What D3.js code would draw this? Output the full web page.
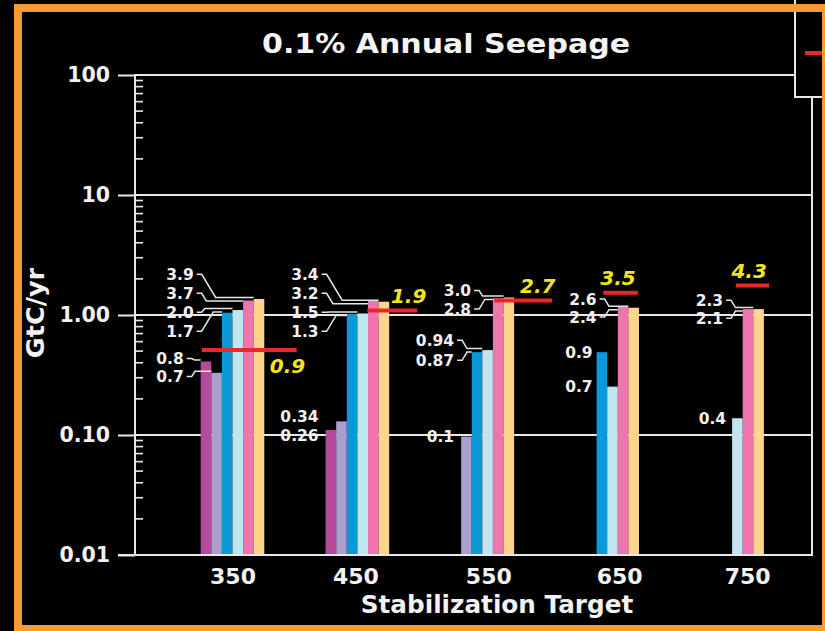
<!DOCTYPE html>
<html>
<head>
<meta charset="utf-8">
<script src="https://cdn.jsdelivr.net/npm/d3@7"></script>
<style>
  html, body { margin: 0; padding: 0; background: #000; }
  svg { display: block; }
</style>
</head>
<body>
<svg id="chart" width="825" height="631"></svg>
<script>
// ---- data -------------------------------------------------------------
const targets = ["350", "450", "550", "650", "750"];

const yTicks = [0.01, 0.1, 1, 10, 100];
const yTickLabels = ["0.01", "0.10", "1.00", "10", "100"];

// seepage rate per scenario, GtC/yr (null = no bar)
const magentaVals   = [0.41, 0.11, null, null, null];
const lavenderVals  = [0.33, 0.13, 0.097, null, null];
const blueVals      = [1.045, 1.02, 0.49, 0.49, null];
const lightBlueVals = [1.10, 1.03, 0.51, 0.253, 0.138];
const pinkVals      = [1.32, 1.32, 1.38, 1.17, 1.12];
const peachVals     = [1.36, 1.29, 1.40, 1.15, 1.12];

// callout text attached to each bar
const magentaNotes   = ["0.8", "0.26", null, null, null];
const lavenderNotes  = ["0.7", "0.34", "0.1", null, null];
const blueNotes      = ["1.7", "1.3", "0.87", "0.9", null];
const lightBlueNotes = ["2.0", "1.5", "0.94", "0.7", "0.4"];
const pinkNotes      = ["3.7", "3.2", "2.8", "2.4", "2.1"];
const peachNotes     = ["3.9", "3.4", "3.0", "2.6", "2.3"];

// allowable level per target (red marker) and its label
const allowance = [0.51, 1.09, 1.32, 1.53, 1.76];
const allowanceText = ["0.9", "1.9", "2.7", "3.5", "4.3"];

// ---- styling / layout ---------------------------------------------------
const seriesVals  = [magentaVals, lavenderVals, blueVals, lightBlueVals, pinkVals, peachVals];
const seriesNotes = [magentaNotes, lavenderNotes, blueNotes, lightBlueNotes, pinkNotes, peachNotes];
const seriesColors = ["#b6499b", "#ab9dcc", "#0a98d6", "#c0e5f0", "#f074af", "#fdd48c"];

const ORANGE = "#f79a32";
const LINE = "#e9e9e9";
const FONT = "'DejaVu Sans', Verdana, sans-serif";

const AXIS_X = 135, BASE_Y = 555, TOP_Y = 75, RIGHT_X = 812, LEGEND_X = 795;

const y = d3.scaleLog().domain([0.01, 100]).range([BASE_Y, TOP_Y]);
const xGroup = d3.scalePoint().domain(targets).range([232.5, 732.1]);
const xBar = d3.scaleBand().domain(d3.range(6)).range([-31.8, 31.8]);

// label nudges for the category axis
const tickNudge = [0, -2, 6, 12, 15];

// callout blocks: which bars share a stacked label column
const calloutLayout = [
  [{ s: [5, 4, 3, 2], leader: true, gap: 19, dy: -2 }, { s: [0, 1], leader: true, gap: 18, dx: -10, dy: 2 }],
  [{ s: [5, 4, 3, 2], leader: true, gap: 19, dy: -5 }, { s: [1, 0], leader: false, gap: 18.7 }],
  [{ s: [5, 4], leader: true, gap: 18.6, dx: 17, dy: 2 }, { s: [3, 2], leader: true, gap: 20 }, { s: [1] }],
  [{ s: [5, 4], leader: true, gap: 18, dx: 7 }, { s: [2], dx: 3 }, { s: [3], dx: 3 }],
  [{ s: [5, 4], leader: true, gap: 18, dx: -2 }, { s: [3], dx: 1 }]
];

// red marker span and label offset, relative to the group centre
const markerLayout = [
  { from: -30.8, to: 64.2, tx: 55, ty: 23 },
  { from: 9.9, to: 59.9, tx: 51.2, ty: -7.5 },
  { from: 12.2, to: 69.9, tx: 55.5, ty: -7.5 },
  { from: -4, to: 30.7, tx: 10.8, ty: -7.5 },
  { from: 3.7, to: 37, tx: 17, ty: -7.5 }
];

const svg = d3.select("#chart");
svg.append("rect").attr("width", 825).attr("height", 631).attr("fill", "#000");

// ---- grid & frame ---------------------------------------------------------
const grid = svg.append("g").attr("stroke", LINE).attr("stroke-width", 2).attr("fill", "none");
yTicks.forEach(v => {
  grid.append("line")
    .attr("x1", AXIS_X).attr("x2", v === 100 ? LEGEND_X : RIGHT_X)
    .attr("y1", y(v)).attr("y2", y(v));
});
// right border of plot below the key box
grid.append("line").attr("x1", RIGHT_X).attr("x2", RIGHT_X).attr("y1", 97).attr("y2", BASE_Y + 1);

// minor ticks on the log axis
const minor = [];
[0.01, 0.1, 1, 10].forEach(d => d3.range(2, 10).forEach(k => minor.push(d * k)));
svg.append("g").attr("stroke", LINE).attr("stroke-width", 1.6)
  .selectAll("line").data(minor).join("line")
  .attr("x1", AXIS_X).attr("x2", AXIS_X + 8)
  .attr("y1", d => y(d)).attr("y2", d => y(d));

// y axis
const yAxis = d3.axisLeft(y).tickValues(yTicks)
  .tickFormat((d, i) => yTickLabels[i]).tickSize(17).tickPadding(8);
const gy = svg.append("g").attr("transform", `translate(${AXIS_X},0)`).call(yAxis);
gy.select(".domain").remove();
gy.selectAll(".tick line").attr("stroke", LINE).attr("stroke-width", 2);
gy.selectAll(".tick text").attr("fill", "#f2f2f2")
  .style("font-family", FONT).style("font-weight", "bold").style("font-size", "20.5px");
svg.append("line").attr("x1", AXIS_X).attr("x2", AXIS_X).attr("y1", TOP_Y - 1).attr("y2", BASE_Y + 1)
  .attr("stroke", LINE).attr("stroke-width", 2);

// ---- bars -----------------------------------------------------------------
const barData = [];
seriesVals.forEach((vals, s) => vals.forEach((v, i) => {
  if (v != null) barData.push({ s, i, v });
}));
svg.append("g").selectAll("rect").data(barData).join("rect")
  .attr("x", d => xGroup(targets[d.i]) + xBar(d.s))
  .attr("width", xBar.bandwidth())
  .attr("y", d => y(d.v))
  .attr("height", d => BASE_Y - y(d.v))
  .attr("fill", d => seriesColors[d.s]);

// bottom axis line (over bar bases)
svg.append("line").attr("x1", 118).attr("x2", RIGHT_X + 1).attr("y1", BASE_Y).attr("y2", BASE_Y)
  .attr("stroke", LINE).attr("stroke-width", 2);

// x axis labels
const xAxis = d3.axisBottom(xGroup).tickSize(0).tickPadding(13);
const gx = svg.append("g").attr("transform", `translate(0,${BASE_Y})`).call(xAxis);
gx.select(".domain").remove();
gx.selectAll(".tick text")
  .attr("dx", (d, i) => tickNudge[i])
  .attr("fill", "#f2f2f2")
  .style("font-family", FONT).style("font-weight", "bold").style("font-size", "22px");

// ---- callouts ---------------------------------------------------------------
const notesG = svg.append("g");
targets.forEach((t, i) => {
  const c = xGroup(t);
  const firstBar = seriesVals.findIndex(vals => vals[i] != null);
  const leftEdge = c + xBar(firstBar);
  calloutLayout[i].forEach(block => {
    const xr = leftEdge - 7 + (block.dx || 0);
    const tops = block.s.map(k => y(seriesVals[k][i]));
    const lead = tops.map(v => v - 1.5);
    for (let j = 1; j < lead.length; j++) lead[j] = Math.max(lead[j], lead[j - 1] + 3.5);
    const n = block.s.length;
    const mid = d3.mean(block.leader ? lead : tops) + (block.dy || 0);
    block.s.forEach((k, j) => {
      const ly = n === 1 ? tops[0] + (block.dy || 0) : mid + (j - (n - 1) / 2) * block.gap;
      notesG.append("text")
        .attr("x", xr).attr("y", ly).attr("dy", "0.36em")
        .attr("text-anchor", "end")
        .attr("fill", "#f0f0f0")
        .style("font-family", FONT).style("font-weight", "bold").style("font-size", "15.5px")
        .text(seriesNotes[k][i]);
      if (block.leader) {
        const barLeft = c + xBar(k);
        const p1 = xr + 8;
        const diag = Math.max(3, Math.min(16, Math.abs(ly - lead[j]) * 0.6));
        const pts = [[xr + 3, ly], [p1, ly], [p1 + diag, lead[j]], [barLeft, lead[j]]];
        notesG.append("path")
          .attr("d", d3.line()(pts))
          .attr("fill", "none").attr("stroke", "#e6e6e6").attr("stroke-width", 1.5);
      }
    });
  });
});

// ---- allowance markers ------------------------------------------------------
targets.forEach((t, i) => {
  const c = xGroup(t);
  const m = markerLayout[i];
  const yy = y(allowance[i]);
  svg.append("line")
    .attr("x1", c + m.from).attr("x2", c + m.to)
    .attr("y1", yy).attr("y2", yy)
    .attr("stroke", "#e8282a").attr("stroke-width", 4);
  svg.append("text")
    .attr("x", c + m.tx).attr("y", yy + m.ty)
    .attr("text-anchor", "middle")
    .attr("fill", "#f4e51a")
    .style("font-family", FONT).style("font-weight", "bold").style("font-style", "italic")
    .style("font-size", "20px")
    .text(allowanceText[i]);
});

// ---- key box (top right) ------------------------------------------------------
svg.append("path")
  .attr("d", `M${LEGEND_X},0 V97 H830`)
  .attr("fill", "none").attr("stroke", LINE).attr("stroke-width", 2);
svg.append("line").attr("x1", 805).attr("x2", 830).attr("y1", 53).attr("y2", 53)
  .attr("stroke", "#e8282a").attr("stroke-width", 4);

// ---- titles ---------------------------------------------------------------------
svg.append("text")
  .attr("x", 446).attr("y", 52.5).attr("text-anchor", "middle")
  .attr("fill", "#f4f4f4")
  .attr("textLength", 368).attr("lengthAdjust", "spacingAndGlyphs")
  .style("font-family", FONT)
  .style("font-weight", "bold").style("font-size", "27px")
  .text("0.1% Annual Seepage");

svg.append("text")
  .attr("transform", "translate(44,313) rotate(-90)")
  .attr("text-anchor", "middle").attr("fill", "#f2f2f2")
  .style("font-family", FONT).style("font-weight", "bold").style("font-size", "25.5px")
  .text("GtC/yr");

svg.append("text")
  .attr("x", 497).attr("y", 613).attr("text-anchor", "middle")
  .attr("fill", "#f2f2f2")
  .style("font-family", FONT).style("font-weight", "bold").style("font-size", "24.7px")
  .text("Stabilization Target");

// ---- outer frame ------------------------------------------------------------------
svg.append("rect")
  .attr("x", 18).attr("y", 8).attr("width", 808).attr("height", 621)
  .attr("fill", "none").attr("stroke", ORANGE).attr("stroke-width", 8);
</script>
</body>
</html>
